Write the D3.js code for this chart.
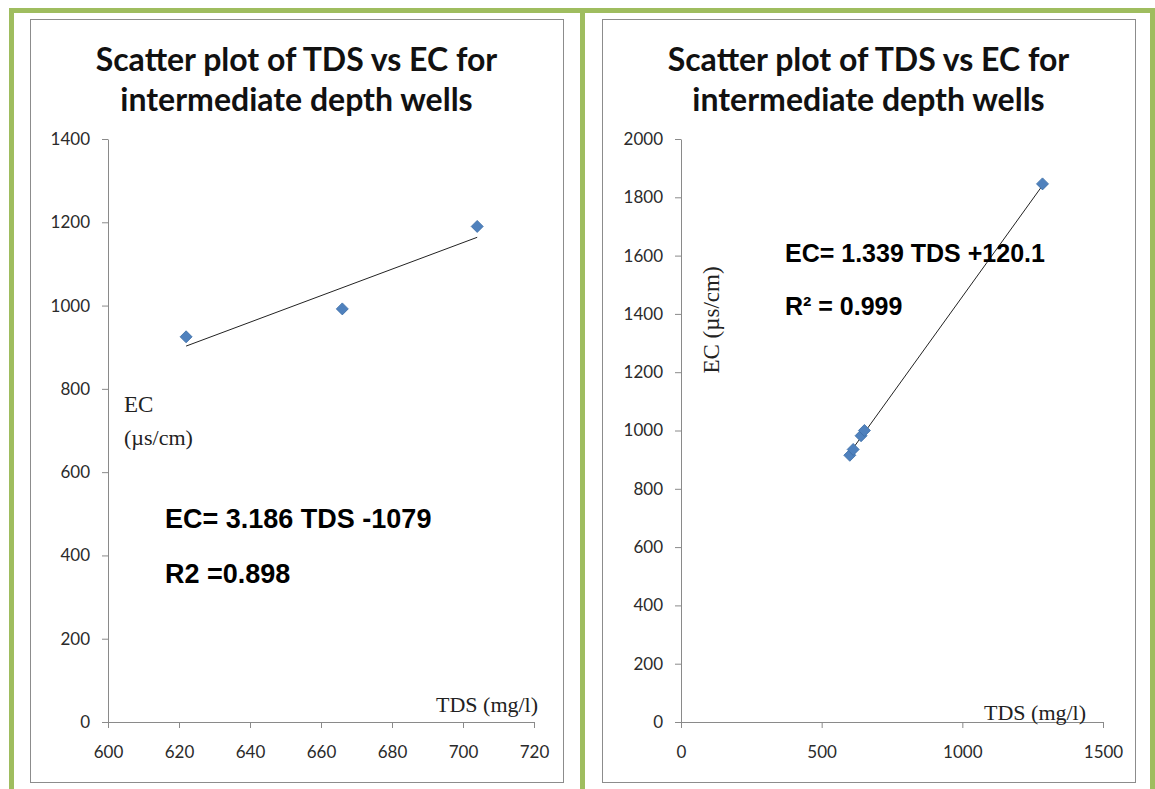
<!DOCTYPE html>
<html>
<head>
<meta charset="utf-8">
<script src="https://cdn.jsdelivr.net/npm/d3@7"></script>
<style>
  body { margin: 0; background: #fff; }
  svg { display: block; }
</style>
</head>
<body>
<svg id="chart" width="1155" height="789"></svg>
<script>
// left panel: intermediate depth wells, three samples
const tdsLeft = [622, 666, 704];
const ecLeft = [925, 992, 1190];
const xTicksLeft = [600, 620, 640, 660, 680, 700, 720];
const yTicksLeft = [0, 200, 400, 600, 800, 1000, 1200, 1400];
const fitLeft = {slope: 3.186, intercept: -1079};

// right panel
const tdsRight = [600, 612, 640, 652, 1285];
const ecRight = [915, 935, 982, 1000, 1846];
const xTicksRight = [0, 500, 1000, 1500];
const yTicksRight = [0, 200, 400, 600, 800, 1000, 1200, 1400, 1600, 1800, 2000];
const fitRight = {slope: 1.339, intercept: 120.1};

const titleLines = ["Scatter plot of TDS vs EC for", "intermediate depth wells"];

const svg = d3.select("#chart");
const green = "#9fbd5f";

// frames
svg.append("rect").attr("x", 11.5).attr("y", 10.5).attr("width", 1150).attr("height", 800)
  .attr("fill", "none").attr("stroke", green).attr("stroke-width", 5);
svg.append("line").attr("x1", 582.5).attr("x2", 582.5).attr("y1", 10).attr("y2", 789)
  .attr("stroke", green).attr("stroke-width", 5);
svg.append("line").attr("x1", 1152.5).attr("x2", 1152.5).attr("y1", 10).attr("y2", 789)
  .attr("stroke", green).attr("stroke-width", 5);

function panel(cfg) {
  const g = svg.append("g");

  g.append("rect")
    .attr("x", cfg.frame[0] + 0.5).attr("y", 19.5)
    .attr("width", cfg.frame[1] - cfg.frame[0]).attr("height", 763)
    .attr("fill", "#fff").attr("stroke", "#8c8c8c").attr("stroke-width", 1);

  const cx = (cfg.frame[0] + cfg.frame[1]) / 2;
  g.selectAll(".title")
    .data(titleLines)
    .enter().append("text")
    .attr("x", cx)
    .attr("y", (d, i) => 71 + i * 40)
    .attr("text-anchor", "middle")
    .style("font-family", "Lato, 'Open Sans', sans-serif")
    .style("font-weight", "bold")
    .style("font-size", "32px")
    .attr("fill", "#111")
    .text(d => d);

  const x = d3.scaleLinear().domain(cfg.xDomain).range(cfg.xRange);
  const y = d3.scaleLinear().domain(cfg.yDomain).range([722, 139]);

  const xAxis = g.append("g")
    .attr("transform", "translate(0,722)")
    .call(d3.axisBottom(x).tickValues(cfg.xTicks).tickSize(6).tickSizeOuter(6).tickPadding(18).tickFormat(d3.format("d")));
  const yAxis = g.append("g")
    .attr("transform", "translate(" + cfg.xRange[0] + ",0)")
    .call(d3.axisLeft(y).tickValues(cfg.yTicks).tickSize(6).tickSizeOuter(0).tickPadding(12).tickFormat(d3.format("d")));

  [xAxis, yAxis].forEach(a => {
    a.select(".domain").attr("stroke", "#8a8a8a");
    a.selectAll(".tick line").attr("stroke", "#8a8a8a");
    a.selectAll(".tick text")
      .style("font-family", "Lato, 'Open Sans', sans-serif")
      .style("font-size", "17px")
      .attr("fill", "#2b2b2b");
  });

  // trend line over the data range
  const xs = d3.extent(cfg.tds);
  g.append("line")
    .attr("x1", x(xs[0])).attr("y1", y(cfg.fit.slope * xs[0] + cfg.fit.intercept))
    .attr("x2", x(xs[1])).attr("y2", y(cfg.fit.slope * xs[1] + cfg.fit.intercept))
    .attr("stroke", "#222").attr("stroke-width", 1);

  const pts = cfg.tds.map((t, i) => ({t: t, e: cfg.ec[i]}));
  g.selectAll(".pt")
    .data(pts)
    .enter().append("path")
    .attr("d", d3.symbol().type(d3.symbolSquare).size(72))
    .attr("transform", d => "translate(" + x(d.t) + "," + y(d.e) + ") rotate(45)")
    .attr("fill", "#4f81bd")
    .attr("stroke", "#3d6fa8")
    .attr("stroke-width", 0.8);

  cfg.labels.forEach(l => {
    const t = g.append("text")
      .attr("x", l.x).attr("y", l.y)
      .style("font-family", l.serif ? "'Liberation Serif', 'DejaVu Serif', serif" : "'Liberation Sans', Arial, sans-serif")
      .style("font-weight", l.serif ? "normal" : "bold")
      .style("font-size", l.size + "px")
      .attr("fill", l.serif ? "#222" : "#000")
      .text(l.text);
    if (l.rotate) t.attr("transform", "rotate(-90," + l.x + "," + l.y + ")").attr("text-anchor", "middle");
  });
}

panel({
  frame: [30, 563],
  xDomain: [600, 720], xRange: [108, 534],
  yDomain: [0, 1400],
  xTicks: xTicksLeft, yTicks: yTicksLeft,
  tds: tdsLeft, ec: ecLeft, fit: fitLeft,
  labels: [
    {text: "EC", x: 124, y: 412, size: 23, serif: true},
    {text: "(µs/cm)", x: 124, y: 445, size: 22, serif: true},
    {text: "TDS (mg/l)", x: 436, y: 712, size: 22, serif: true},
    {text: "EC= 3.186 TDS -1079", x: 165, y: 528, size: 27},
    {text: "R2 =0.898", x: 165, y: 583, size: 27}
  ]
});

panel({
  frame: [602, 1135],
  xDomain: [0, 1500], xRange: [681, 1103],
  yDomain: [0, 2000],
  xTicks: xTicksRight, yTicks: yTicksRight,
  tds: tdsRight, ec: ecRight, fit: fitRight,
  labels: [
    {text: "EC (µs/cm)", x: 719, y: 320, size: 23, serif: true, rotate: true},
    {text: "TDS (mg/l)", x: 984, y: 720, size: 22, serif: true},
    {text: "EC= 1.339 TDS +120.1", x: 785, y: 262, size: 25},
    {text: "R² = 0.999", x: 785, y: 315, size: 25}
  ]
});
</script>
</body>
</html>
